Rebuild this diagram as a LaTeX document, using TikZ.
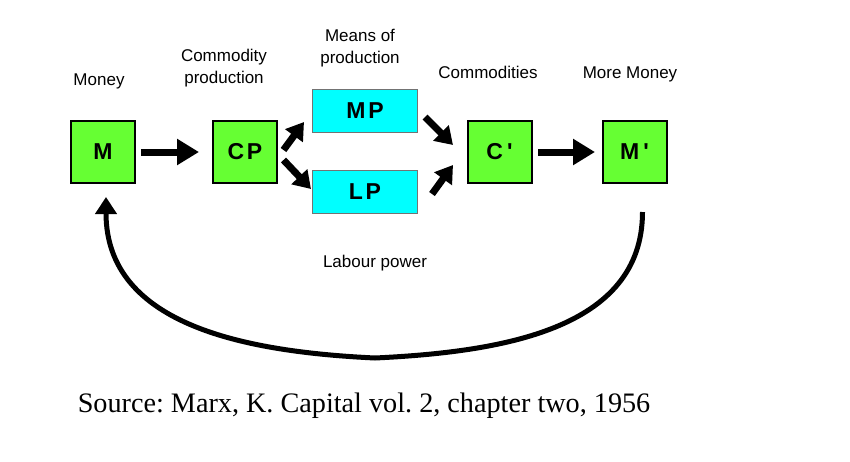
\documentclass[tikz,border=0pt]{standalone}
\usepackage{fontspec}
\setmainfont{Liberation Serif}
\setsansfont{Liberation Sans}
\newfontfamily\boxfont[LetterSpace=12]{Liberation Sans Bold}
\usetikzlibrary{positioning}
\usetikzlibrary{arrows.meta}
\definecolor{boxgreen}{RGB}{102,255,51}
\definecolor{boxcyan}{RGB}{0,255,255}
\frenchspacing

\begin{document}
\begin{tikzpicture}[x=1pt,y=-1pt,
gbox/.style={draw=black,line width=2pt,fill=boxgreen,minimum width=64pt,minimum height=62pt,inner sep=0pt,font=\boxfont\fontsize{23}{23}\selectfont},
cbox/.style={draw=black!55,line width=1pt,fill=boxcyan,minimum width=105pt,minimum height=43pt,inner sep=0pt,font=\boxfont\fontsize{23}{23}\selectfont},
lbl/.style={font=\sffamily\fontsize{17}{22}\selectfont,align=center,inner sep=0pt,anchor=base},
flow/.style={line width=7pt,-{Triangle[width=25pt,length=22pt]}},
sflow/.style={line width=7pt,-{Triangle[width=21pt,length=17pt]}},
back/.style={line width=5pt,-{Triangle[width=21pt,length=17pt]}}]
\useasboundingbox (0,0) rectangle (850,461);
\node[gbox] (M) at (103,152) {M};
\node[gbox,right=76pt of M] (CP) {CP};
\node[cbox] (MP) at (365,111) {MP};
\node[cbox,below=37pt of MP] (LP) {LP};
\node[gbox] (C) at (499.5,152) {C\hspace{4pt}'};
\node[gbox,right=69pt of C] (Mp) {M\hspace{4pt}'};
\coordinate (cusp) at (375,358);
\node[lbl] (money) at (99,85) {Money};
\node[lbl] (cplbl) at (224,83) {Commodity\\production};
\node[lbl] (mplbl) at (360,63) {Means of\\production};
\node[lbl] (clbl) at (488,78) {Commodities};
\node[lbl] (mmlbl) at (630,78) {More Money};
\node[lbl] (lplbl) at (375,267) {Labour power};
\node[font=\rmfamily\fontsize{28.2}{28.2}\selectfont,inner sep=0pt,anchor=base] (src) at (364,412) {Source: Marx, K. Capital vol. 2, chapter two, 1956};
\draw[flow] ([xshift=5pt]M.east) -- ([xshift=-13pt]CP.west);
\draw[sflow] ([shift={(5.5,-2)}]CP.east) -- ([shift={(-8,-11)}]MP.south west);
\draw[sflow] ([shift={(5.5,8)}]CP.east) -- ([shift={(-1,-3)}]LP.west);
\draw[sflow] ([shift={(7,6)}]MP.east) -- ([shift={(-13.5,-7)}]C.west);
\draw[sflow] ([shift={(14,2)}]LP.east) -- ([shift={(-13.5,13)}]C.west);
\draw[flow] ([xshift=5.5pt]C.east) -- ([xshift=-6.5pt]Mp.west);
\draw[back] ([shift={(8,28)}]Mp.south) .. controls +(0,118) and +(125,-6) .. (cusp)
  .. controls +(-125,-6) and +(0,130) .. ([shift={(3,13)}]M.south);
\end{tikzpicture}
\end{document}
